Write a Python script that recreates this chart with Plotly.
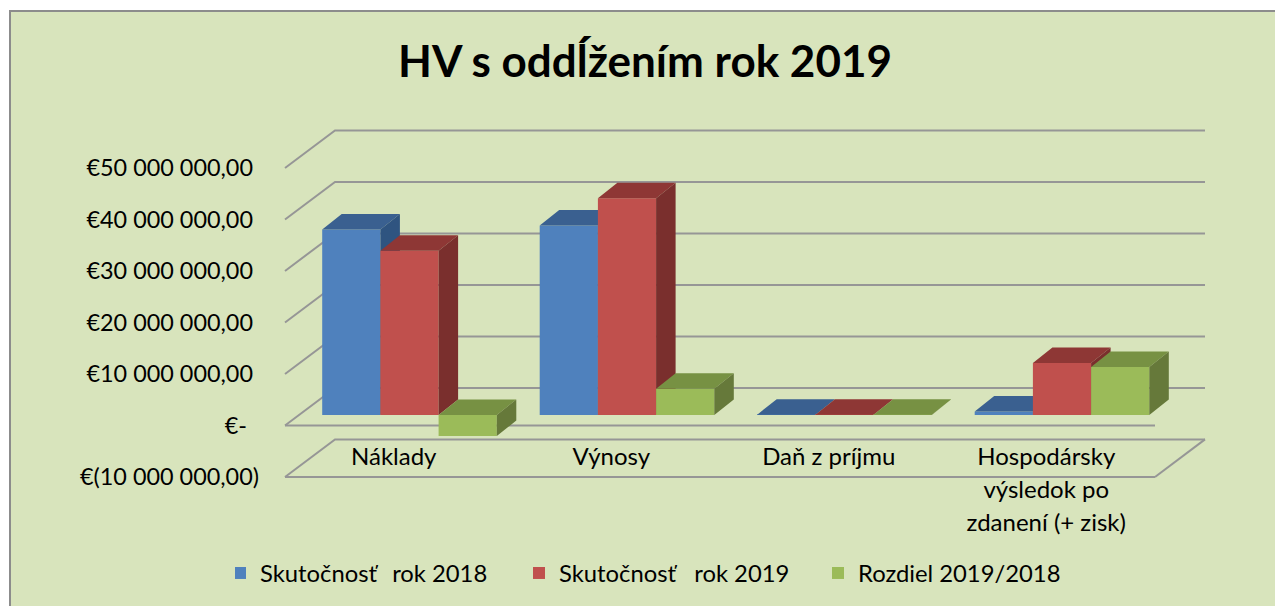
import plotly.graph_objects as go

# ---- data ----
categories = [
    ["Náklady"],
    ["Výnosy"],
    ["Daň z príjmu"],
    ["Hospodársky", "výsledok po", "zdanení (+ zisk)"],
]
series_names = ["Skutočnosť\u00a0\u00a0\u2009rok 2018", "Skutočnosť\u00a0\u00a0\u00a0rok 2019", "Rozdiel 2019/2018"]
values_2018 = [36000000, 36800000, 60000, 700000]
values_2019 = [31900000, 42100000, 60000, 10100000]
values_diff = [-4100000, 5100000, 60000, 9300000]
y_ticks = [-10000000, 0, 10000000, 20000000, 30000000, 40000000, 50000000]
y_tick_labels = [
    "€(10 000 000,00)", "€-\u00a0\u00a0", "€10 000 000,00\u00a0", "€20 000 000,00\u00a0",
    "€30 000 000,00\u00a0", "€40 000 000,00\u00a0", "€50 000 000,00\u00a0",
]
title_text = "HV s oddĺžením rok 2019"

front_colors = ["#4F81BD", "#C0504D", "#9BBB59"]
top_colors = ["#3A6090", "#8E3735", "#779143"]
side_colors = ["#2F5480", "#7A2F2D", "#66793A"]

# ---- geometry of the pseudo-3D projection ----
W, H = 1275, 606
PX_PER_CAT = 217.5
PX_PER_UNIT = 51.5 / 1e7
FONT = "Lato"
bar_w = 58.2 / PX_PER_CAT
bar_start = -1.5 * bar_w
depth_x = 19.5 / PX_PER_CAT
depth_y = 15.5 / PX_PER_UNIT
wall_x = 50 / PX_PER_CAT
wall_y = 37.6 / PX_PER_UNIT


def x_range(center_px):
    return [-center_px / PX_PER_CAT, (W - center_px) / PX_PER_CAT]


def y_range(zero_px):
    return [-(H - zero_px) / PX_PER_UNIT, zero_px / PX_PER_UNIT]


fig = go.Figure()

# walls and floor lines (front-plane axes)
gx, gy = [], []
for t in y_ticks:
    gx += [-0.5, -0.5 + wall_x, 3.5 + wall_x, None]
    gy += [t, t + wall_y, t + wall_y, None]
for t in y_ticks[:2]:
    gx += [-0.5, 3.5, None]
    gy += [t, t, None]
gx += [3.5, 3.5 + wall_x, None]
gy += [y_ticks[0], y_ticks[0] + wall_y, None]
fig.add_trace(go.Scatter(x=gx, y=gy, mode="lines", line=dict(color="#969696", width=2),
                         hoverinfo="skip", showlegend=False))

# bars: one overlay per series so that later series hide the sides of earlier ones
for k, (vals, name) in enumerate(zip([values_2018, values_2019, values_diff], series_names)):
    ya = f"y{k + 2}"
    fig.add_trace(go.Bar(x=list(range(4)), y=vals, width=bar_w, offset=bar_start + k * bar_w,
                         name=name, marker=dict(color=front_colors[k], line=dict(width=0)),
                         xaxis="x2", yaxis=ya))
    tx, ty, sx, sy = [], [], [], []
    for i, v in enumerate(vals):
        l = i + bar_start + k * bar_w
        r = l + bar_w
        hi, lo = max(v, 0), min(v, 0)
        tx += [l, l + depth_x, r + depth_x, r, None]
        ty += [hi, hi + depth_y, hi + depth_y, hi, None]
        sx += [r, r + depth_x, r + depth_x, r, None]
        sy += [hi, hi + depth_y, lo + depth_y, lo, None]
    for xs, ys, c in ((tx, ty, top_colors[k]), (sx, sy, side_colors[k])):
        fig.add_trace(go.Scatter(x=xs, y=ys, mode="lines", fill="toself", fillcolor=c,
                                 line=dict(width=0, color=c), hoverinfo="skip", showlegend=False,
                                 xaxis="x2", yaxis=ya))


def tick_label(lines):
    return "<br>".join(f"<span style='font-size:24px'>{s}</span>" for s in lines)


hidden = dict(visible=False, fixedrange=True)
fig.update_layout(
    width=W, height=H, autosize=False,
    margin=dict(l=0, r=0, t=0, b=0),
    paper_bgcolor="#FFFFFF", plot_bgcolor="rgba(0,0,0,0)",
    font=dict(family=FONT, size=22, color="#000000"),
    barmode="overlay",
    title=dict(text=f"<b>{title_text}</b>", font=dict(family=FONT, size=44, color="#000000"),
               x=645 / W, xanchor="center", y=1 - 62 / H, yanchor="middle"),
    xaxis=dict(range=x_range(393.75), domain=[0, 1], anchor="free", position=1 - 438 / H,
               tickmode="array", tickvals=list(range(4)),
               ticktext=[tick_label(c) for c in categories], tickangle=0,
               tickfont=dict(family=FONT, size=25.5, color="#000000"),
               showgrid=False, zeroline=False, showline=False, ticks="", fixedrange=True),
    yaxis=dict(range=y_range(425.5), domain=[0, 1], anchor="free", position=259 / W,
               tickmode="array", tickvals=y_ticks, ticktext=y_tick_labels,
               tickfont=dict(family=FONT, size=23.4, color="#000000"),
               showgrid=False, zeroline=False, showline=False, ticks="", fixedrange=True),
    xaxis2=dict(range=x_range(409.5), overlaying="x", **hidden),
    yaxis2=dict(range=y_range(415), overlaying="y", **hidden),
    yaxis3=dict(range=y_range(415), overlaying="y", **hidden),
    yaxis4=dict(range=y_range(415), overlaying="y", **hidden),
    legend=dict(orientation="h", x=235 / W, xanchor="left", y=1 - 573 / H, yanchor="middle",
                font=dict(family=FONT, size=23.8, color="#000000"), bgcolor="rgba(0,0,0,0)",
                entrywidth=269, entrywidthmode="pixels", indentation=-15),
    shapes=[dict(type="rect", xref="paper", yref="paper", layer="below",
                 x0=10 / W, x1=1.01, y0=-0.01, y1=1 - 11 / H,
                 fillcolor="#D8E4BC", line=dict(color="#8C8C8C", width=2))],
)

fig.write_html("out.html", config=dict(displayModeBar=False),
               post_script="document.body.style.margin='0';")
